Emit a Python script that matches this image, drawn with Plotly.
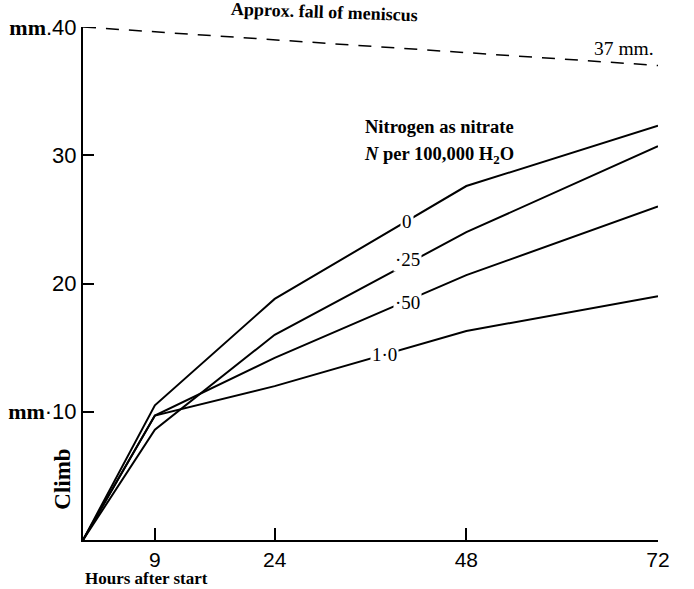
import plotly.graph_objects as go

hours = [0, 9, 24, 48, 72]
n_0 = [0, 10.5, 18.8, 27.6, 32.3]
n_25 = [0, 8.6, 16.0, 24.0, 30.7]
n_50 = [0, 9.7, 14.2, 20.65, 26.0]
n_100 = [0, 9.7, 12.0, 16.3, 19.0]
meniscus_x = [0, 72]
meniscus_y = [40, 37]

x_ticks = [9, 24, 48, 72]
x_ticktext = ["9", "24", "48", "72"]
y_ticks = [10, 20, 30, 40]
MM = '<span style="font-family:Liberation Serif;font-weight:bold">mm</span>'
y_ticktext = [MM + "·10", "20", "30", MM + ".40"]

SERIF = "Liberation Serif"
SANS = "Liberation Sans"

fig = go.Figure()
for ys in [n_0, n_25, n_50, n_100]:
    fig.add_trace(go.Scatter(x=hours, y=ys, mode="lines",
                             line=dict(color="black", width=2),
                             showlegend=False, hoverinfo="skip"))
fig.add_trace(go.Scatter(x=meniscus_x, y=meniscus_y, mode="lines",
                         line=dict(color="black", width=1.5, dash="13px,10px"),
                         showlegend=False, hoverinfo="skip"))

def ann(x, y, text, size=16, family=SERIF, bg=None, **kw):
    d = dict(x=x, y=y, text=text, showarrow=False,
             font=dict(family=family, size=size, color="black"))
    if bg:
        d["bgcolor"] = bg
    d.update(kw)
    fig.add_annotation(**d)

# curve labels
ann(40.6, 24.8, "0", size=19, bg="white")
ann(40.6, 21.9, "·25", size=19, bg="white")
ann(40.6, 18.5, "·50", size=19, bg="white")
ann(37.8, 14.5, "1·0", size=19, bg="white")

ann(44.6, 32.2, "<b>Nitrogen as nitrate</b>", size=18.5)
ann(44.6, 30.0, "<b><i>N</i> per 100,000 H<sub>2</sub>O</b>", size=18.5)

ann(67.8, 38.3, "37 mm.", size=19.5)

fig.add_annotation(x=30.3, y=1, xref="x", yref="paper",
                   text="<b>Approx. fall of meniscus</b>", showarrow=False,
                   yshift=15, yanchor="middle", xanchor="center", textangle=2,
                   font=dict(family=SERIF, size=18, color="black"))
fig.add_annotation(x=8.0, y=0, xref="x", yref="paper", text="<b>Hours after start</b>",
                   showarrow=False, yshift=-38, yanchor="middle", xanchor="center",
                   font=dict(family=SERIF, size=17, color="black"))
fig.add_annotation(x=0, y=4.7, xref="paper", yref="y", text="<b>Climb</b>",
                   showarrow=False, textangle=-90, xshift=-20,
                   xanchor="center", yanchor="middle",
                   font=dict(family=SERIF, size=23, color="black"))

fig.update_xaxes(range=[0, 72], tickvals=x_ticks, ticktext=x_ticktext,
                 automargin=False,
                 showgrid=False, zeroline=False, showline=True,
                 linecolor="black", linewidth=2, ticks="inside", ticklen=12,
                 tickwidth=1.5, tickcolor="black",
                 tickfont=dict(family=SANS, size=21, color="black"))
fig.update_yaxes(range=[0, 40], tickvals=y_ticks, ticktext=y_ticktext,
                 automargin=False,
                 showgrid=False, zeroline=False, showline=True,
                 linecolor="black", linewidth=2, ticks="inside", ticklen=11,
                 tickwidth=1.5, tickcolor="black",
                 tickfont=dict(family=SANS, size=22, color="black"))

fig.update_layout(width=694, height=589,
                  margin=dict(l=83, r=36, t=27, b=49),
                  plot_bgcolor="white", paper_bgcolor="white")

fig.write_html("out.html", config={"displayModeBar": False},
               post_script="document.body.style.margin='0';document.body.style.overflow='hidden';")
